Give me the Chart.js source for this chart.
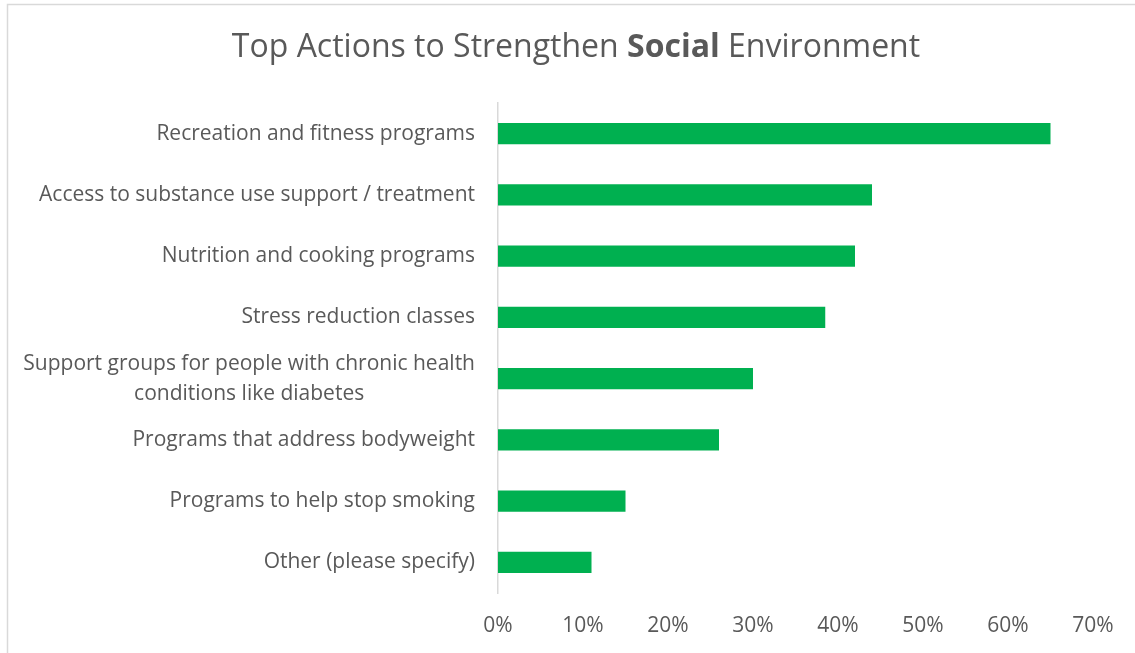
<!DOCTYPE html>
<html>
<head>
<meta charset="utf-8">
<title>Top Actions to Strengthen Social Environment</title>
<script src="https://cdn.jsdelivr.net/npm/chart.js@4/dist/chart.umd.min.js"></script>
<style>
  html, body { margin: 0; padding: 0; background: #fff; }
  canvas { display: block; }
</style>
</head>
<body>
<canvas id="actionsChart" width="1135" height="653"></canvas>
<script>
// survey answers, top to bottom
const actions = [
    'Recreation and fitness programs',
    'Access to substance use support / treatment',
    'Nutrition and cooking programs',
    'Stress reduction classes',
    ['Support groups for people with chronic health', 'conditions like diabetes'],
    'Programs that address bodyweight',
    'Programs to help stop smoking',
    'Other (please specify)'
];
const shares = [65, 44, 42, 38.5, 30, 26, 15, 11];   // percent of respondents
const xTicks = [0, 10, 20, 30, 40, 50, 60, 70];

const textGray = '#595959';
const fontFamily = '"Open Sans", "Liberation Sans", sans-serif';

// light frame round the chart
const framePlugin = {
    id: 'frame',
    beforeDraw(chart) {
        const ctx = chart.ctx;
        ctx.save();
        ctx.fillStyle = '#fff';
        ctx.fillRect(0, 0, chart.width, chart.height);
        ctx.strokeStyle = '#d9d9d9';
        ctx.lineWidth = 1.5;
        ctx.strokeRect(7.5, 4.5, chart.width + 20, chart.height + 20);
        ctx.restore();
    }
};

// title with the middle word in bold
const titlePlugin = {
    id: 'mixedTitle',
    afterDraw(chart) {
        const ctx = chart.ctx;
        const parts = [
            { text: 'Top Actions to Strengthen ', weight: 'normal' },
            { text: 'Social', weight: 'bold' },
            { text: ' Environment', weight: 'normal' }
        ];
        const size = 32;
        ctx.save();
        ctx.fillStyle = textGray;
        ctx.textBaseline = 'middle';
        ctx.textAlign = 'left';
        let total = 0;
        parts.forEach(p => {
            ctx.font = p.weight + ' ' + size + 'px ' + fontFamily;
            p.w = ctx.measureText(p.text).width;
            total += p.w;
        });
        let x = 576 - total / 2;
        parts.forEach(p => {
            ctx.font = p.weight + ' ' + size + 'px ' + fontFamily;
            ctx.fillText(p.text, x, 48);
            x += p.w;
        });
        ctx.restore();
    }
};

// category labels: right edge fixed, wrapped lines centred on each other
const categoryLabels = {
    id: 'categoryLabels',
    afterDraw(chart) {
        const ctx = chart.ctx;
        const yScale = chart.scales.y;
        const lineH = 30;
        ctx.save();
        ctx.font = '21px ' + fontFamily;
        ctx.fillStyle = textGray;
        ctx.textAlign = 'center';
        ctx.textBaseline = 'middle';
        chart.data.labels.forEach((label, i) => {
            const lines = Array.isArray(label) ? label : [label];
            const widest = Math.max(...lines.map(l => ctx.measureText(l).width));
            const cx = 475 - widest / 2;
            const cy = yScale.getPixelForTick(i);
            lines.forEach((line, k) => {
                ctx.fillText(line, cx, cy + (k - (lines.length - 1) / 2) * lineH);
            });
        });
        ctx.restore();
    }
};

new Chart(document.getElementById('actionsChart'), {
    type: 'bar',
    data: {
        labels: actions,
        datasets: [{
            data: shares,
            backgroundColor: '#00b050',
            borderWidth: 0,
            barPercentage: 0.35,
            categoryPercentage: 1
        }]
    },
    options: {
        indexAxis: 'y',
        responsive: false,
        animation: false,
        layout: { padding: { top: 103, right: 42, left: 0, bottom: 0 } },
        plugins: {
            legend: { display: false },
            title: { display: false },
            tooltip: { enabled: false }
        },
        scales: {
            x: {
                min: 0,
                max: 70,
                afterBuildTicks(scale) {
                    scale.ticks = xTicks.map(v => ({ value: v }));
                },
                grid: { display: false, drawTicks: false, tickLength: 0 },
                border: { display: false },
                ticks: {
                    padding: 20,
                    color: textGray,
                    font: { family: fontFamily, size: 21 },
                    callback: v => v + '%'
                },
                afterFit(scale) { scale.height = 60; }
            },
            y: {
                grid: { display: false, drawTicks: false, tickLength: 0 },
                border: { display: true, color: '#d9d9d9', width: 1.5 },
                ticks: { display: false },
                afterFit(scale) { scale.width = 498; }
            }
        }
    },
    plugins: [framePlugin, titlePlugin, categoryLabels]
});
</script>
</body>
</html>
